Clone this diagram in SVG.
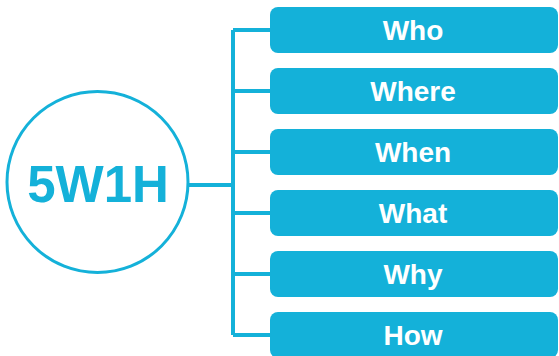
<svg xmlns="http://www.w3.org/2000/svg" width="559" height="356" viewBox="0 0 559 356">
<style>
.box{fill:#14B1D9}
.lbl{font-family:"Liberation Sans",Arial,sans-serif;font-weight:bold;font-size:28px;fill:#fff;text-anchor:middle}
.ln{stroke:#14B1D9;stroke-width:4;fill:none}
</style>
<rect width="559" height="356" fill="#fff"/>
<g id="connectors">
<path class="ln" d="M188 185H233M233 30V335M233 30H272M233 91H272M233 152H272M233 213H272M233 274H272M233 335H272"/>
</g>
<g id="center">
<circle cx="97.5" cy="182" r="90.5" fill="#fff" stroke="#14B1D9" stroke-width="3"/>
<text x="98" y="202" style="font-family:'Liberation Sans',Arial,sans-serif;font-weight:bold;font-size:51px;fill:#14B1D9;text-anchor:middle">5W1H</text>
</g>
<g id="who"><rect class="box" x="270" y="7" width="288" height="46" rx="8"/><text class="lbl" x="413" y="40">Who</text></g>
<g id="where"><rect class="box" x="270" y="68" width="288" height="46" rx="8"/><text class="lbl" x="413" y="101">Where</text></g>
<g id="when"><rect class="box" x="270" y="129" width="288" height="46" rx="8"/><text class="lbl" x="413" y="162">When</text></g>
<g id="what"><rect class="box" x="270" y="190" width="288" height="46" rx="8"/><text class="lbl" x="413" y="223">What</text></g>
<g id="why"><rect class="box" x="270" y="251" width="288" height="46" rx="8"/><text class="lbl" x="413" y="284">Why</text></g>
<g id="how"><rect class="box" x="270" y="312" width="288" height="46" rx="8"/><text class="lbl" x="413" y="345">How</text></g>
</svg>
